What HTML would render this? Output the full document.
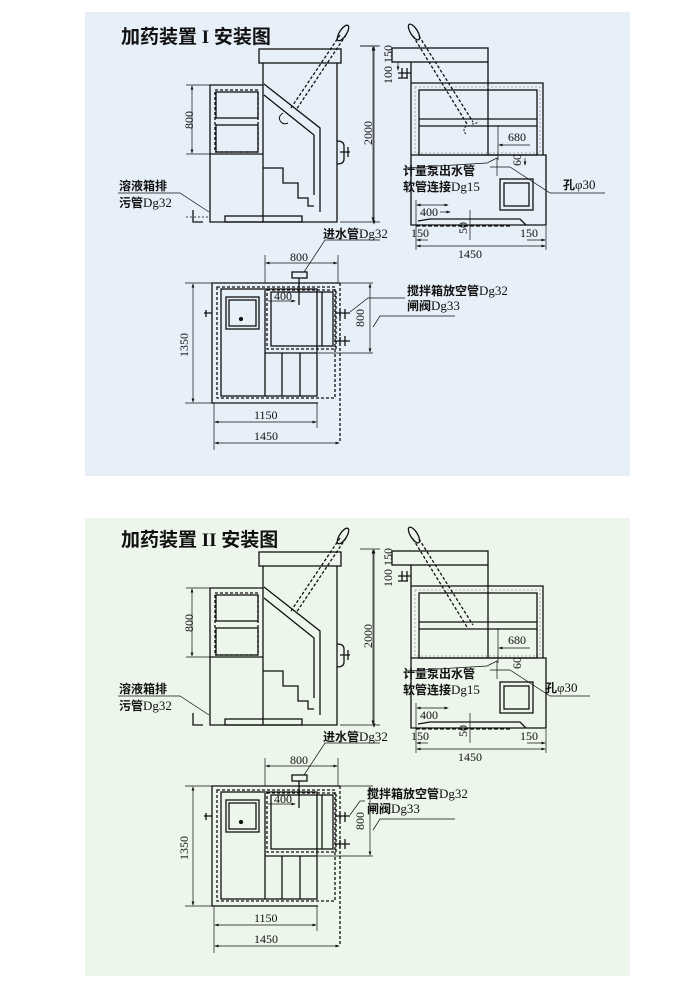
<!DOCTYPE html>
<html><head><meta charset="utf-8"><style>
html,body{margin:0;padding:0;background:#fff;}
svg{display:block;}
.t{font-family:"Liberation Serif","Noto Serif CJK SC",serif;font-size:12px;fill:#111;}
.c{font-family:"Liberation Serif","Noto Sans CJK SC",sans-serif;font-size:12px;fill:#111;font-weight:bold;}
.c tspan{font-weight:normal;font-size:13px;}
.h{font-family:"Liberation Serif","Noto Sans CJK SC",sans-serif;font-size:19px;font-weight:bold;fill:#111;}
</style></head><body>
<svg width="700" height="988" viewBox="0 0 700 988" xmlns="http://www.w3.org/2000/svg">
<defs>
<marker id="a" markerWidth="6" markerHeight="6" refX="5" refY="3" orient="auto-start-reverse"><path d="M0,1 L6,3 L0,5z" fill="#111"/></marker>
</defs>
<rect x="85" y="12" width="545" height="464" fill="#e7eff9"/>
<rect x="85" y="518" width="545" height="458" fill="#ecf6ea"/>

<g id="p1" stroke="#111" stroke-width="1.3" fill="none">
<rect x="259" y="49" width="82" height="14"/>
<polyline points="263,63 263,222 337,222 337,63"/>
<polyline points="263,85 210,85 210,222 263,222"/>
<line x1="210" y1="154" x2="263" y2="154"/>
<rect x="215" y="90" width="43" height="62" stroke-dasharray="3,2"/>
<rect x="216" y="92" width="42" height="26"/>
<rect x="216" y="125" width="42" height="27"/>
<polyline points="264,84 320,128 320,212"/>
<polyline points="264,95 314,135 314,195"/>
<polyline points="263,168 283,168 283,183 298,183 298,198 308,198 308,206 314,206"/>
<rect x="225" y="216" width="77" height="6"/>
<polyline points="193,210 193,222 203,222"/>
<path d="M337,141 q7,0 7,5 v13 q0,5 -7,5 M340,152 h10 M348,147 v10"/>
<line x1="340" y1="35" x2="291" y2="108" stroke-dasharray="3,2"/>
<line x1="346" y1="35" x2="296" y2="110" stroke-dasharray="3,2"/>
<ellipse cx="343" cy="33" rx="3.5" ry="9" transform="rotate(33 343 33)"/>
<path d="M283,113 q-6,4 -2,9 q3,3 7,1" stroke-width="1"/>
<g stroke-width="0.7">
<line x1="186" y1="85" x2="210" y2="85"/><line x1="186" y1="154" x2="210" y2="154"/>
<line x1="192" y1="86" x2="192" y2="153" marker-start="url(#a)" marker-end="url(#a)"/>
<line x1="360" y1="46" x2="380" y2="46"/><line x1="340" y1="222" x2="380" y2="222"/>
<line x1="373" y1="47" x2="373" y2="221" marker-start="url(#a)" marker-end="url(#a)"/>
<polyline points="118,193 180,193 209,212"/>
<line x1="186" y1="217" x2="210" y2="217" stroke-dasharray="2,2"/>
</g>
<rect x="392" y="48" width="96" height="14"/>
<polyline points="411,62 411,225 546,225 546,155 411,155"/>
<line x1="488" y1="62" x2="488" y2="155"/>
<polyline points="411,83 543,83 543,155"/>
<rect x="415" y="87" width="125" height="66" stroke="#999" stroke-dasharray="2,2" stroke-width="0.8"/>
<rect x="419" y="90" width="118" height="65"/>
<line x1="419" y1="119" x2="537" y2="119"/><line x1="419" y1="126" x2="537" y2="126"/>
<rect x="500" y="179" width="33" height="31"/><rect x="504" y="183" width="25" height="23"/>
<polyline points="418,221 430,219 520,219 526,225"/>
<line x1="416" y1="226" x2="512" y2="226" stroke-dasharray="4,2"/>
<line x1="413" y1="36" x2="467" y2="124" stroke-dasharray="3,2"/>
<line x1="419" y1="36" x2="473" y2="122" stroke-dasharray="3,2"/>
<ellipse cx="414" cy="32" rx="3.5" ry="9" transform="rotate(-32 414 32)"/>
<path d="M466,126 q-4,5 0,8 M472,124 q5,0 6,-3" stroke-dasharray="2,1.5" stroke-width="1"/>
<path d="M398,73 h13 M402,68 v10 M407,68 v10 M398,78 h10"/>
<g stroke-width="0.7">
<line x1="360" y1="46" x2="378" y2="46"/>
<line x1="374" y1="47" x2="374" y2="224" marker-start="url(#a)" marker-end="url(#a)"/>
<line x1="398" y1="62" x2="398" y2="70" marker-end="url(#a)"/>
<line x1="498" y1="125" x2="498" y2="160"/>
<line x1="499" y1="145" x2="530" y2="145" marker-start="url(#a)"/>
<line x1="525" y1="158" x2="525" y2="165" marker-end="url(#a)"/>
<polyline points="405,168 487,163 497,158 497,176"/>
<polyline points="490,167 510,167 550,193 605,193"/>
<line x1="416" y1="200" x2="416" y2="250"/>
<line x1="417" y1="205" x2="448" y2="205" marker-start="url(#a)" marker-end="url(#a)"/>
<line x1="440" y1="212" x2="450" y2="212" marker-end="url(#a)"/>
<line x1="470" y1="210" x2="470" y2="240"/>
<line x1="546" y1="226" x2="546" y2="250"/>
<line x1="417" y1="240" x2="428" y2="240" marker-start="url(#a)"/>
<line x1="527" y1="240" x2="545" y2="240" marker-end="url(#a)"/>
<line x1="417" y1="246" x2="545" y2="246" marker-start="url(#a)" marker-end="url(#a)"/>
</g>
<polyline points="340,283 212,283 212,403 318,403"/>
<line x1="340" y1="283" x2="340" y2="443" stroke-dasharray="3,2"/>
<rect x="217" y="287" width="118" height="111" stroke-dasharray="3,2"/>
<rect x="221" y="289" width="96" height="107"/>
<rect x="226" y="297" width="33" height="32"/><rect x="229" y="300" width="27" height="26"/>
<rect x="267" y="290" width="69" height="59" stroke-dasharray="3,2"/>
<rect x="271" y="292" width="62" height="54"/>
<line x1="322" y1="292" x2="322" y2="346"/>
<line x1="265" y1="290" x2="265" y2="396"/>
<line x1="282" y1="353" x2="282" y2="396"/><line x1="300" y1="353" x2="300" y2="396"/>
<line x1="265" y1="353" x2="317" y2="353"/>
<rect x="292" y="272" width="15" height="6"/><line x1="299" y1="278" x2="299" y2="305"/>
<path d="M204,313 h8 M206,310 v7 M340,310 v8 M345,309 v10 M340,337 v8 M345,336 v10 M335,313 h15 M335,341 h15"/>
<g stroke-width="0.7">
<line x1="318" y1="353" x2="373" y2="353"/><line x1="340" y1="283" x2="373" y2="283"/>
<line x1="370" y1="284" x2="370" y2="352" marker-start="url(#a)" marker-end="url(#a)"/>
<line x1="265" y1="255" x2="265" y2="283"/><line x1="338" y1="255" x2="338" y2="283"/>
<line x1="266" y1="263" x2="337" y2="263" marker-start="url(#a)" marker-end="url(#a)"/>
<polyline points="304,272 325,240 380,240"/>
<line x1="185" y1="283" x2="212" y2="283"/><line x1="185" y1="403" x2="212" y2="403"/>
<line x1="193" y1="284" x2="193" y2="402" marker-start="url(#a)" marker-end="url(#a)"/>
<line x1="214" y1="403" x2="214" y2="450"/><line x1="317" y1="403" x2="317" y2="428"/>
<line x1="215" y1="422" x2="316" y2="422" marker-start="url(#a)" marker-end="url(#a)"/>
<line x1="215" y1="443" x2="339" y2="443" marker-start="url(#a)" marker-end="url(#a)"/>
<line x1="268" y1="301" x2="295" y2="301" marker-end="url(#a)"/>
<polyline points="405,298 368,298 350,312"/>
<polyline points="455,316 380,316 373,327"/>
</g>
<circle cx="241" cy="319" r="1.5" fill="#111"/>
<g stroke="none">
<text class="h" x="121" y="43">加药装置 I 安装图</text>
<text class="t" transform="translate(193,120) rotate(-90)" text-anchor="middle">800</text>
<text class="t" transform="translate(372,133) rotate(-90)" text-anchor="middle">2000</text>
<text class="c" x="119" y="190">溶液箱排</text>
<text class="c" x="119" y="207">污管<tspan>Dg32</tspan></text>
<text class="t" transform="translate(392,54) rotate(-90)" text-anchor="middle">150</text>
<text class="t" transform="translate(392,75) rotate(-90)" text-anchor="middle">100</text>
<text class="t" x="508" y="141">680</text>
<text class="t" transform="translate(521,160) rotate(-90)" text-anchor="middle">60</text>
<text class="c" x="403" y="175">计量泵出水管</text>
<text class="c" x="403" y="191">软管连接<tspan>Dg15</tspan></text>
<text class="c" x="563" y="189">孔<tspan>φ30</tspan></text>
<text class="t" x="420" y="216">400</text>
<text class="t" x="411" y="237">150</text>
<text class="t" transform="translate(467,228) rotate(-90)" text-anchor="middle">50</text>
<text class="t" x="520" y="237">150</text>
<text class="t" x="458" y="258">1450</text>
<text class="c" x="323" y="238">进水管<tspan>Dg32</tspan></text>
<text class="t" x="290" y="261">800</text>
<text class="t" x="274" y="300">400</text>
<text class="c" x="407" y="295">搅拌箱放空管<tspan>Dg32</tspan></text>
<text class="c" x="407" y="310">闸阀<tspan>Dg33</tspan></text>
<text class="t" transform="translate(364,318) rotate(-90)" text-anchor="middle">800</text>
<text class="t" transform="translate(188,345) rotate(-90)" text-anchor="middle">1350</text>
<text class="t" x="254" y="419">1150</text>
<text class="t" x="254" y="440">1450</text>
</g>
</g>

<g transform="translate(0,503)" stroke="#111" stroke-width="1.3" fill="none">
<rect x="259" y="49" width="82" height="14"/>
<polyline points="263,63 263,222 337,222 337,63"/>
<polyline points="263,85 210,85 210,222 263,222"/>
<line x1="210" y1="154" x2="263" y2="154"/>
<rect x="215" y="90" width="43" height="62" stroke-dasharray="3,2"/>
<rect x="216" y="92" width="42" height="26"/>
<rect x="216" y="125" width="42" height="27"/>
<polyline points="264,84 320,128 320,212"/>
<polyline points="264,95 314,135 314,195"/>
<polyline points="263,168 283,168 283,183 298,183 298,198 308,198 308,206 314,206"/>
<rect x="225" y="216" width="77" height="6"/>
<polyline points="193,210 193,222 203,222"/>
<path d="M337,141 q7,0 7,5 v13 q0,5 -7,5 M340,152 h10 M348,147 v10"/>
<line x1="340" y1="35" x2="291" y2="108" stroke-dasharray="3,2"/>
<line x1="346" y1="35" x2="296" y2="110" stroke-dasharray="3,2"/>
<ellipse cx="343" cy="33" rx="3.5" ry="9" transform="rotate(33 343 33)"/>
<g stroke-width="0.7">
<line x1="186" y1="85" x2="210" y2="85"/><line x1="186" y1="154" x2="210" y2="154"/>
<line x1="192" y1="86" x2="192" y2="153" marker-start="url(#a)" marker-end="url(#a)"/>
<line x1="360" y1="46" x2="380" y2="46"/><line x1="340" y1="222" x2="380" y2="222"/>
<line x1="373" y1="47" x2="373" y2="221" marker-start="url(#a)" marker-end="url(#a)"/>
<polyline points="118,193 180,193 209,212"/>
</g>
<rect x="392" y="48" width="96" height="14"/>
<polyline points="411,62 411,225 546,225 546,155 411,155"/>
<line x1="488" y1="62" x2="488" y2="155"/>
<polyline points="411,83 543,83 543,155"/>
<rect x="415" y="87" width="125" height="66" stroke="#999" stroke-dasharray="2,2" stroke-width="0.8"/>
<rect x="419" y="90" width="118" height="65"/>
<line x1="419" y1="119" x2="537" y2="119"/><line x1="419" y1="126" x2="537" y2="126"/>
<rect x="500" y="179" width="33" height="31"/><rect x="504" y="183" width="25" height="23"/>
<polyline points="418,221 430,219 520,219 526,225"/>
<line x1="416" y1="226" x2="512" y2="226" stroke-dasharray="4,2"/>
<line x1="413" y1="36" x2="467" y2="124" stroke-dasharray="3,2"/>
<line x1="419" y1="36" x2="473" y2="122" stroke-dasharray="3,2"/>
<ellipse cx="414" cy="32" rx="3.5" ry="9" transform="rotate(-32 414 32)"/>
<path d="M398,73 h13 M402,68 v10 M407,68 v10 M398,78 h10"/>
<g stroke-width="0.7">
<line x1="374" y1="47" x2="374" y2="224" marker-start="url(#a)" marker-end="url(#a)"/>
<line x1="498" y1="125" x2="498" y2="160"/>
<line x1="499" y1="145" x2="530" y2="145" marker-start="url(#a)"/>
<polyline points="405,168 487,163 497,158 497,176"/>
<polyline points="490,167 510,167 550,193 590,193"/>
<line x1="416" y1="200" x2="416" y2="250"/>
<line x1="417" y1="205" x2="448" y2="205" marker-start="url(#a)" marker-end="url(#a)"/>
<line x1="470" y1="210" x2="470" y2="240"/>
<line x1="546" y1="226" x2="546" y2="250"/>
<line x1="417" y1="240" x2="428" y2="240" marker-start="url(#a)"/>
<line x1="527" y1="240" x2="545" y2="240" marker-end="url(#a)"/>
<line x1="417" y1="246" x2="545" y2="246" marker-start="url(#a)" marker-end="url(#a)"/>
</g>
<polyline points="340,283 212,283 212,403 318,403"/>
<line x1="340" y1="283" x2="340" y2="443" stroke-dasharray="3,2"/>
<rect x="217" y="287" width="118" height="111" stroke-dasharray="3,2"/>
<rect x="221" y="289" width="96" height="107"/>
<rect x="226" y="297" width="33" height="32"/><rect x="229" y="300" width="27" height="26"/>
<rect x="267" y="290" width="69" height="59" stroke-dasharray="3,2"/>
<rect x="271" y="292" width="62" height="54"/>
<line x1="322" y1="292" x2="322" y2="346"/>
<line x1="265" y1="290" x2="265" y2="396"/>
<line x1="282" y1="353" x2="282" y2="396"/><line x1="300" y1="353" x2="300" y2="396"/>
<line x1="265" y1="353" x2="317" y2="353"/>
<rect x="292" y="272" width="15" height="6"/><line x1="299" y1="278" x2="299" y2="305"/>
<path d="M204,313 h8 M206,310 v7 M340,310 v8 M345,309 v10 M340,337 v8 M345,336 v10 M335,313 h15 M335,341 h15"/>
<g stroke-width="0.7">
<line x1="318" y1="353" x2="373" y2="353"/><line x1="340" y1="283" x2="373" y2="283"/>
<line x1="370" y1="284" x2="370" y2="352" marker-start="url(#a)" marker-end="url(#a)"/>
<line x1="265" y1="255" x2="265" y2="283"/><line x1="338" y1="255" x2="338" y2="283"/>
<line x1="266" y1="263" x2="337" y2="263" marker-start="url(#a)" marker-end="url(#a)"/>
<polyline points="304,272 325,240 380,240"/>
<line x1="185" y1="283" x2="212" y2="283"/><line x1="185" y1="403" x2="212" y2="403"/>
<line x1="193" y1="284" x2="193" y2="402" marker-start="url(#a)" marker-end="url(#a)"/>
<line x1="214" y1="403" x2="214" y2="450"/><line x1="317" y1="403" x2="317" y2="428"/>
<line x1="215" y1="422" x2="316" y2="422" marker-start="url(#a)" marker-end="url(#a)"/>
<line x1="215" y1="443" x2="339" y2="443" marker-start="url(#a)" marker-end="url(#a)"/>
<line x1="268" y1="301" x2="295" y2="301" marker-end="url(#a)"/>
<polyline points="365,298 360,298 350,312"/>
<polyline points="455,316 380,316 373,327"/>
</g>
<circle cx="241" cy="319" r="1.5" fill="#111"/>
<g stroke="none">
<text class="h" x="121" y="43">加药装置 II 安装图</text>
<text class="t" transform="translate(193,120) rotate(-90)" text-anchor="middle">800</text>
<text class="t" transform="translate(372,133) rotate(-90)" text-anchor="middle">2000</text>
<text class="c" x="119" y="190">溶液箱排</text>
<text class="c" x="119" y="207">污管<tspan>Dg32</tspan></text>
<text class="t" transform="translate(392,54) rotate(-90)" text-anchor="middle">150</text>
<text class="t" transform="translate(392,75) rotate(-90)" text-anchor="middle">100</text>
<text class="t" x="508" y="141">680</text>
<text class="t" transform="translate(521,160) rotate(-90)" text-anchor="middle">60</text>
<text class="c" x="403" y="175">计量泵出水管</text>
<text class="c" x="403" y="191">软管连接<tspan>Dg15</tspan></text>
<text class="c" x="545" y="189">孔<tspan>φ30</tspan></text>
<text class="t" x="420" y="216">400</text>
<text class="t" x="411" y="237">150</text>
<text class="t" transform="translate(467,228) rotate(-90)" text-anchor="middle">50</text>
<text class="t" x="520" y="237">150</text>
<text class="t" x="458" y="258">1450</text>
<text class="c" x="323" y="238">进水管<tspan>Dg32</tspan></text>
<text class="t" x="290" y="261">800</text>
<text class="t" x="274" y="300">400</text>
<text class="c" x="367" y="295">搅拌箱放空管<tspan>Dg32</tspan></text>
<text class="c" x="367" y="310">闸阀<tspan>Dg33</tspan></text>
<text class="t" transform="translate(364,318) rotate(-90)" text-anchor="middle">800</text>
<text class="t" transform="translate(188,345) rotate(-90)" text-anchor="middle">1350</text>
<text class="t" x="254" y="419">1150</text>
<text class="t" x="254" y="440">1450</text>
</g>
</g>
</svg>
</body></html>
